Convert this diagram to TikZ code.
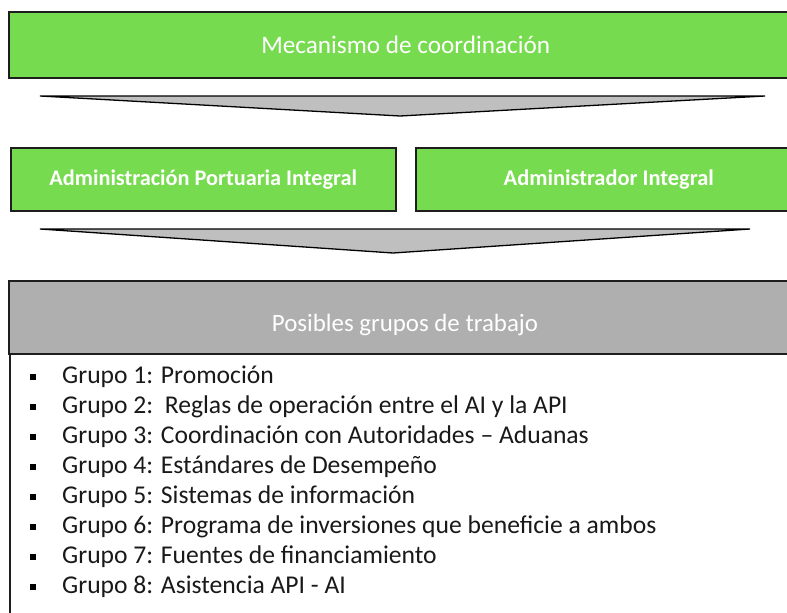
\documentclass[tikz,border=0pt]{standalone}
\usepackage{fontspec}
\setmainfont{Carlito}
\definecolor{boxgreen}{RGB}{119,219,79}
\definecolor{headgray}{RGB}{175,175,175}
\definecolor{wedgegray}{RGB}{191,191,191}
\definecolor{edgedark}{RGB}{30,30,30}
\tikzset{
  greenbox/.style={draw=edgedark, line width=1.5pt, fill=boxgreen, text=white, anchor=north west, inner sep=0pt},
  graybox/.style={draw=edgedark, line width=1.5pt, fill=headgray, anchor=north west, inner sep=0pt},
  wedge/.style={draw=black, line width=1.3pt, fill=wedgegray, line join=miter},
  itemtext/.style={anchor=west, inner sep=0pt, font=\fontsize{25.6}{30}\selectfont, text=black!90},
  bulletbox/.style={fill=black, minimum size=6.5pt, inner sep=0pt}
}
\begin{document}
\begin{tikzpicture}[x=1pt,y=-1pt]
\useasboundingbox (0,0) rectangle (787,613);
\clip (0,0) rectangle (787,613);
\fill[white] (0,0) rectangle (787,613);
% top box
\node[greenbox, minimum width=794pt, minimum height=66pt, font=\fontsize{25.2}{30}\selectfont] (mec) at (8,11) {Mecanismo de coordinación};
% wedge 1
\draw[wedge] (40,96) coordinate (w1a) -- (765,96) coordinate (w1b) -- (400,116) coordinate (w1c) -- cycle;
% row 2
\node[greenbox, minimum width=385pt, minimum height=63pt, font=\bfseries\fontsize{22.3}{26}\selectfont] (api) at (10,147) {Administración Portuaria Integral};
\node[greenbox, minimum width=386pt, minimum height=63pt, font=\bfseries\fontsize{22.4}{26}\selectfont] (ai) at (415,147) {Administrador Integral};
% wedge 2
\draw[wedge] (40,229) coordinate (w2a) -- (750,229) coordinate (w2b) -- (393,253) coordinate (w2c) -- cycle;
% header
\node[graybox, minimum width=794pt, minimum height=73pt] (head) at (8,280) {};
\node[text=white, inner sep=0pt, font=\fontsize{24.9}{30}\selectfont] (headtxt) at (405,325) {Posibles grupos de trabajo};
% list box
\draw[draw=edgedark, line width=1.5pt] (10,353) -- (10,640);
% items
\foreach \i/\t in {1/{Grupo 1: Promoción},
                   2/{Grupo 2:\ \ Reglas de operación entre el AI y la API},
                   3/{Grupo 3: Coordinación con Autoridades – Aduanas},
                   4/{Grupo 4: Estándares de Desempeño},
                   5/{Grupo 5: Sistemas de información},
                   6/{Grupo 6: Programa de inversiones que beneficie a ambos},
                   7/{Grupo 7: Fuentes de financiamiento},
                   8/{Grupo 8: Asistencia API - AI}} {
  \node[bulletbox] (b\i) at (33,{347+30*\i}) {};
  \node[itemtext] (t\i) at (62,{347+30*\i}) {\t};
}
\end{tikzpicture}
\end{document}
